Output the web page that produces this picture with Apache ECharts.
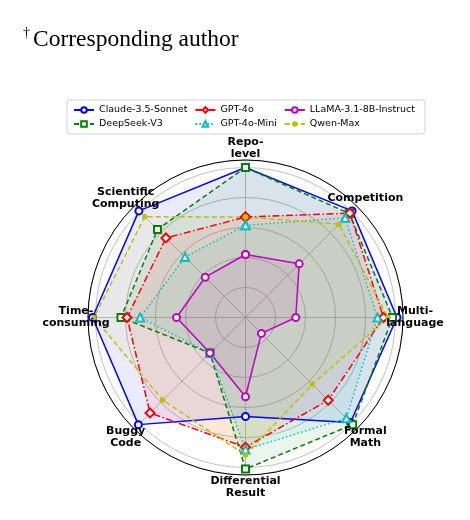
<!DOCTYPE html>
<html>
<head>
<meta charset="utf-8">
<script src="https://cdn.jsdelivr.net/npm/echarts@6/dist/echarts.min.js"></script>
<style>
  html, body { margin: 0; padding: 0; background: #fff; }
  #chart { width: 470px; height: 520px; }
</style>
</head>
<body>
<div id="chart"></div>
<script>
// axes, clockwise from the top
var categories = ['Repo-\nlevel', 'Competition', 'Multi-\nlanguage', 'Formal\nMath',
  'Differential\nResult', 'Buggy\nCode', 'Time-\nconsuming', 'Scientific\nComputing']
var radiusTicks = [0, 20, 40, 60, 80, 100]

var models = ['Claude-3.5-Sonnet', 'DeepSeek-V3', 'GPT-4o', 'GPT-4o-Mini', 'LLaMA-3.1-8B-Instruct', 'Qwen-Max']
var claude = [100, 100.5, 101, 99, 66, 101, 102, 100.5]
var deepseek = [100, 98, 98, 101, 101, 33.5, 83, 83]
var gpt4o = [67, 98.4, 92, 78, 86.5, 90, 79, 75]
var gpt4oMini = [61.5, 94, 88, 95, 88, 33.5, 70.3, 57]
var llama = [42, 50.6, 33.5, 15, 52.8, 33.5, 46, 38]
var qwen = [67, 88, 95, 63, 91.7, 78, 101, 95]

var chart = echarts.init(document.getElementById('chart'))

// [radius, angle] pairs, first point repeated to close the shape
function closed (vals) {
  var pts = vals.map(function (v, i) { return [v, i * 360 / categories.length] })
  pts.push([vals[0], 360])
  return pts
}

function makeSeries (name, vals, color, symbol, size, dash) {
  return {
    name: name,
    type: 'line',
    coordinateSystem: 'polar',
    data: closed(vals),
    symbol: symbol,
    symbolSize: size,
    showSymbol: true,
    lineStyle: { color: color, width: 1.5, type: dash },
    itemStyle: { color: color, borderWidth: 1.5 },
    areaStyle: { color: color, opacity: 0.08 },
    emphasis: { disabled: true },
    animation: false
  }
}

var option = {
  animation: false,
  textStyle: { fontFamily: 'DejaVu Sans' },
  legend: {
    orient: 'vertical',
    left: 67,
    top: 100,
    height: 28,
    itemGap: 2,
    itemWidth: 20,
    itemHeight: 7,
    padding: [4, 5, 4, 6],
    borderColor: '#d0d0d0',
    borderWidth: 1,
    borderRadius: 3,
    data: models,
    textStyle: { fontSize: 9.5, color: '#000', lineHeight: 12, padding: [0, 5, 0, 0] }
  },
  polar: {
    center: [245.5, 317.5],
    radius: 157.5
  },
  angleAxis: {
    type: 'value',
    min: 0,
    max: 360,
    interval: 45,
    startAngle: 90,
    clockwise: true,
    axisLine: { show: true, lineStyle: { color: '#000', width: 1 } },
    axisTick: { show: false },
    splitLine: { show: true, lineStyle: { color: '#b0b0b0', width: 0.8 } },
    axisLabel: { show: false }
  },
  radiusAxis: {
    type: 'value',
    min: radiusTicks[0],
    max: 105,
    interval: 20,
    axisLine: { show: false },
    axisTick: { show: false },
    axisLabel: { show: false },
    splitLine: { show: true, lineStyle: { color: '#b0b0b0', width: 0.8 } }
  },
  series: [
    makeSeries(models[0], claude, '#0000ff', 'emptyCircle', 7, 'solid'),
    makeSeries(models[1], deepseek, '#008000', 'emptyRect', 7, [5, 3]),
    makeSeries(models[2], gpt4o, '#ff0000', 'emptyDiamond', 9, [7, 2.5, 1.5, 2.5]),
    makeSeries(models[3], gpt4oMini, '#00bfbf', 'emptyTriangle', 8, [1.5, 2.5]),
    makeSeries(models[4], llama, '#bf00bf', 'emptyCircle', 7, 'solid'),
    makeSeries(models[5], qwen, '#bfbf00', 'circle', 5.5, [5, 3])
  ]
}

chart.setOption(option)

// category labels centred just outside the outer ring
var labels = categories.map(function (name, i) {
  var p = chart.convertToPixel({ seriesIndex: 0 }, [113, i * 45])
  return {
    type: 'text', x: p[0], y: p[1], z: 100,
    style: {
      text: name, align: 'center', verticalAlign: 'middle',
      fontFamily: 'DejaVu Sans', fontSize: 11, fontWeight: 'bold', lineHeight: 12, fill: '#000'
    }
  }
})

chart.setOption({
  graphic: [
    {
      type: 'text', x: 23, y: 33,
      style: { text: '†', fontFamily: 'Liberation Serif', fontSize: 14, fill: '#000', verticalAlign: 'middle' }
    },
    {
      type: 'text', x: 33, y: 40,
      style: { text: 'Corresponding author', fontFamily: 'Liberation Serif', fontSize: 23.5, fill: '#000', verticalAlign: 'middle' }
    }
  ].concat(labels)
})
</script>
</body>
</html>
